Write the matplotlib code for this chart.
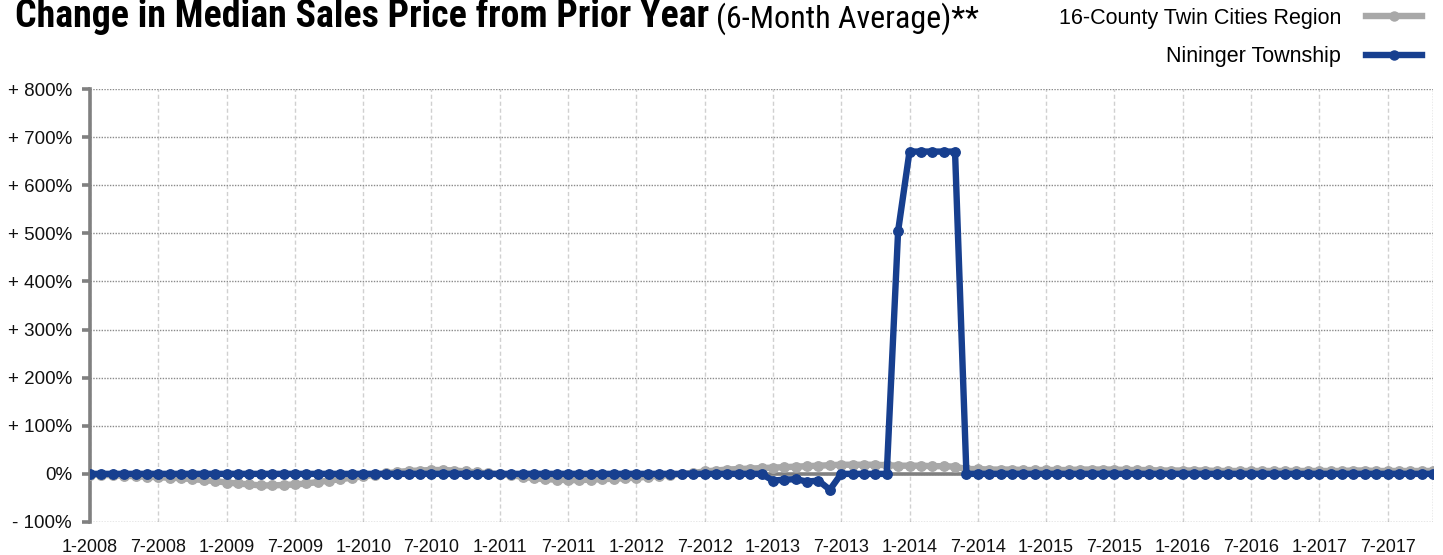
import numpy as np
import matplotlib
matplotlib.use("Agg")
import matplotlib.pyplot as plt
from matplotlib.lines import Line2D

plt.rcParams['font.family'] = ['Liberation Sans', 'DejaVu Sans']

# monthly 6-month-average change in median sales price, 1-2008 .. 11-2017 (%)
region_change = [
    -2, -2, -3, -4, -5, -6, -7, -8, -9, -11, -13, -15,          # 2008
    -18, -20, -22, -24, -24, -23, -22, -20, -17, -14, -11, -8,  # 2009
    -5, -2, 1, 4, 6, 7, 8, 8, 7, 5, 3, 1,                       # 2010
    -1, -3, -6, -9, -11, -12, -13, -13, -12, -11, -10, -9,      # 2011
    -8, -6, -4, -2, 0, 2, 5, 7, 9, 10, 11, 12,                  # 2012
    13, 14, 15, 16, 17, 18, 19, 19, 19, 19, 18, 17,             # 2013
    17, 17, 16, 16, 15, 10, 10, 9, 9, 9, 8, 8,                  # 2014
    8, 8, 8, 9, 9, 9, 9, 8, 8, 8, 7, 7,                         # 2015
    7, 7, 7, 6, 6, 6, 6, 6, 6, 6, 6, 6,                         # 2016
    6, 6, 6, 7, 7, 6, 6, 6, 6, 6, 6,                            # 2017
]

township_change = [
    0, 0, 0, 0, 0, 0, 0, 0, 0, 0, 0, 0,                         # 2008
    0, 0, 0, 0, 0, 0, 0, 0, 0, 0, 0, 0,                         # 2009
    0, 0, 0, 0, 0, 0, 0, 0, 0, 0, 0, 0,                         # 2010
    0, 0, 0, 0, 0, 0, 0, 0, 0, 0, 0, 0,                         # 2011
    0, 0, 0, 0, 0, 0, 0, 0, 0, 0, 0, 0,                         # 2012
    -14, -12, -11, -16, -14, -33, 0, 0, 0, 0, 0, 505,           # 2013
    670, 670, 670, 670, 670, 0, 0, 0, 0, 0, 0, 0,               # 2014
    0, 0, 0, 0, 0, 0, 0, 0, 0, 0, 0, 0,                         # 2015
    0, 0, 0, 0, 0, 0, 0, 0, 0, 0, 0, 0,                         # 2016
    0, 0, 0, 0, 0, 0, 0, 0, 0, 0, 0,                            # 2017
]

month_labels = ['1-2008', '7-2008', '1-2009', '7-2009', '1-2010', '7-2010',
                '1-2011', '7-2011', '1-2012', '7-2012', '1-2013', '7-2013',
                '1-2014', '7-2014', '1-2015', '7-2015', '1-2016', '7-2016',
                '1-2017', '7-2017']
y_ticks = [-100, 0, 100, 200, 300, 400, 500, 600, 700, 800]
y_labels = ['- 100%', '0%', '+ 100%', '+ 200%', '+ 300%', '+ 400%',
            '+ 500%', '+ 600%', '+ 700%', '+ 800%']

GRAY = '#a8a8a8'
BLUE = '#173f8f'
AXIS = '#808080'
TITLE_FONT = ['Roboto Condensed', 'Liberation Sans Narrow', 'DejaVu Sans']

months = np.arange(len(region_change))

fig = plt.figure(figsize=(14.43, 5.55), dpi=100)
ax = fig.add_axes([0.0624, 0.0595, 0.9307, 0.7801])

ax.plot(months, region_change, color=GRAY, lw=4.6, marker='o', ms=6.8,
        zorder=3, solid_capstyle='round')
ax.plot(months, township_change, color=BLUE, lw=4.6, marker='o', ms=6.8,
        zorder=4, solid_capstyle='round')
ax.axhline(0, color=AXIS, lw=2.6, zorder=2)

ax.set_xlim(0, len(months) - 1)
ax.set_ylim(-100, 800)

ax.set_xticks(months[::6])
ax.set_xticklabels(month_labels, fontsize=13)
ax.tick_params(axis='x', length=0, pad=12, colors='#111111')
ax.set_yticks(y_ticks)
ax.set_yticklabels(y_labels, fontsize=13.5)
ax.tick_params(axis='y', length=6, width=2.6, color=AXIS, pad=7,
               labelcolor='#111111')

ax.xaxis.grid(True, ls=(0, (3, 2)), color='#d0d0d0', lw=1)
ax.yaxis.grid(True, ls=(0, (1, 1)), color='#8a8a8a', lw=1)
ax.set_axisbelow(True)
ax.axvline(len(months) - 1, ls=(0, (1, 1)), color='#9a9a9a', lw=1)

for side in ('top', 'right', 'bottom'):
    ax.spines[side].set_visible(False)
ax.spines['left'].set_color(AXIS)
ax.spines['left'].set_linewidth(2.6)

title = fig.text(0.0104, 0.952, 'Change in Median Sales Price from Prior Year',
                 fontsize=27.3, fontweight='bold', family=TITLE_FONT,
                 va='baseline')
ax.annotate('(6-Month Average)**', xy=(1, 0), xycoords=title,
            xytext=(5, 0), textcoords='offset points', fontsize=23,
            family=TITLE_FONT, va='bottom', annotation_clip=False)

handles = [Line2D([], [], color=GRAY, lw=4.6, marker='o', ms=6.5),
           Line2D([], [], color=BLUE, lw=4.6, marker='o', ms=6.5)]
ax.legend(handles, ['16-County Twin Cities Region', 'Nininger Township'],
          markerfirst=False, frameon=False, fontsize=15.5, handlelength=2.6,
          handletextpad=1.15, labelspacing=0.8, borderpad=0, borderaxespad=0,
          loc='upper right', bbox_to_anchor=(1422 / 1443, 1 - 8 / 555),
          bbox_transform=fig.transFigure)

fig.savefig('out.png', dpi=100)
